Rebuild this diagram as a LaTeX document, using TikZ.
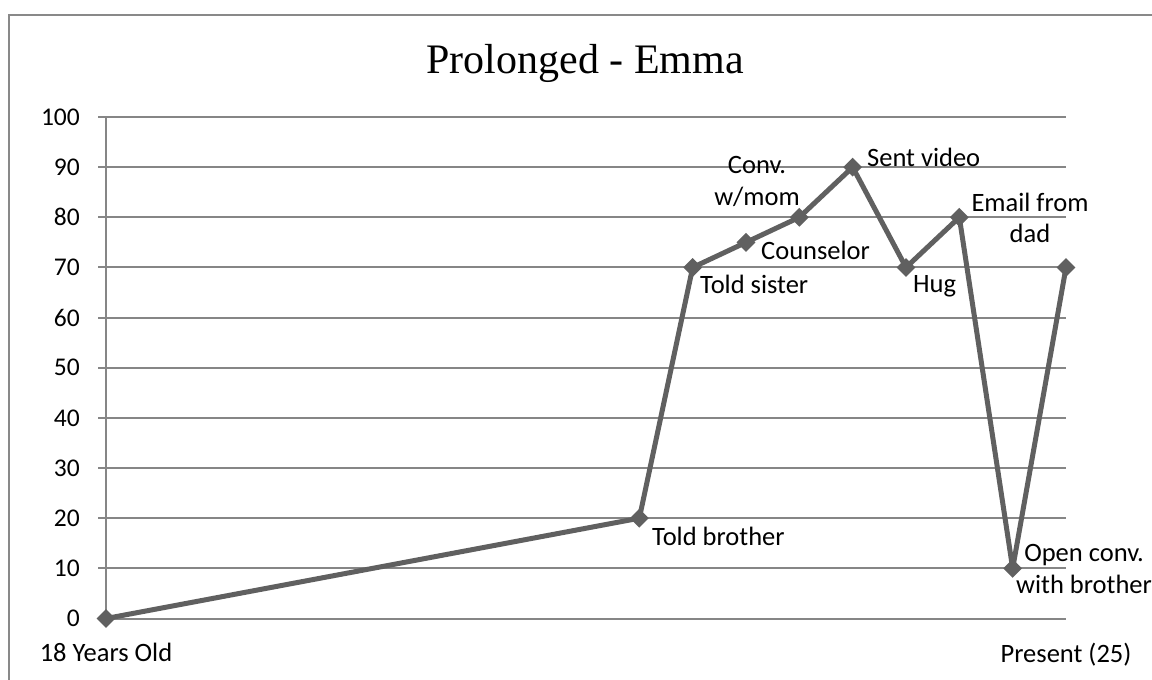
\documentclass[tikz,border=0pt]{standalone}
\usepackage{fontspec}
\setmainfont{Carlito}
\newfontfamily\titlefont{Liberation Serif}
\usetikzlibrary{shapes.geometric}
\definecolor{gridgray}{RGB}{134,134,134}
\definecolor{framegray}{RGB}{137,137,137}
\definecolor{seriesgray}{RGB}{96,96,96}
\tikzset{
  gridline/.style={draw=gridgray, line width=2pt},
  series/.style={draw=seriesgray, line width=5pt, line join=round},
  marker/.style={diamond, fill=seriesgray, inner sep=0pt, minimum width=19pt, minimum height=19pt},
  ticklabel/.style={anchor=east, inner sep=0pt, font=\fontsize{25.5}{30}\selectfont},
  pointlabel/.style={inner sep=0pt, font=\fontsize{26.5}{31.5}\selectfont},
}
\begin{document}
\begin{tikzpicture}[x=1pt,y=-1pt]
\useasboundingbox (0,0) rectangle (1152,680);
% chart frame (open to the right and bottom)
\draw[framegray, line width=1.8pt] (9,680) -- (9,14.7) -- (1152,14.7);
% title
\node[anchor=base, inner sep=0pt, font=\titlefont\fontsize{42}{48}\selectfont] (title) at (585,73.3) {Prolonged - Emma};

% plot area: x in category steps, y in value units
\begin{scope}[shift={(106pt,-618.5pt)}, x=53.3333pt, y=5.015pt]
  \foreach \v in {0,10,...,100} {
    \draw[gridline] (0,\v) ++(-8pt,0) -- (18,\v);
    \node[ticklabel, xshift=-26pt] (yl\v) at (0,\v) {\v};
  }
  \draw[gridline] (0,0) -- (0,100);
  % data points
  \coordinate (p0)  at (0,0);
  \coordinate (p10) at (10,20);
  \coordinate (p11) at (11,70);
  \coordinate (p12) at (12,75);
  \coordinate (p13) at (13,80);
  \coordinate (p14) at (14,90);
  \coordinate (p15) at (15,70);
  \coordinate (p16) at (16,80);
  \coordinate (p17) at (17,10);
  \coordinate (p18) at (18,70);
\end{scope}

% series line and markers
\draw[series] (p0) -- (p10) -- (p11) -- (p12) -- (p13) -- (p14) -- (p15) -- (p16) -- (p17) -- (p18);
\foreach \k in {0,10,11,12,13,14,15,16,17,18}
  \node[marker] (m\k) at (p\k) {};

% data labels (two-line labels are placed by the baseline of their last line)
\node[pointlabel, anchor=base west] (lb10) at (652,545) {Told brother};
\node[pointlabel, anchor=base west] (lb11) at (700,293) {Told sister};
\node[pointlabel, anchor=base west] (lb12) at (761,259) {Counselor};
\node[pointlabel, anchor=base, align=center] (lb13) at (757,205) {Conv.\\w/mom};
\node[pointlabel, anchor=base west] (lb14) at (867,166.7) {Sent video};
\node[pointlabel, anchor=base west] (lb15) at (913,292) {Hug};
\node[pointlabel, anchor=base, align=center] (lb16) at (1030,242.7) {Email from\\dad};
\node[pointlabel, anchor=base, align=center] (lb17) at (1084,593) {Open conv.\\with brother};

% category axis labels
\node[pointlabel, anchor=base] (xl0) at (106,661.7) {18 Years Old};
\node[pointlabel, anchor=base] (xl18) at (1066,662) {Present (25)};
\end{tikzpicture}
\end{document}
